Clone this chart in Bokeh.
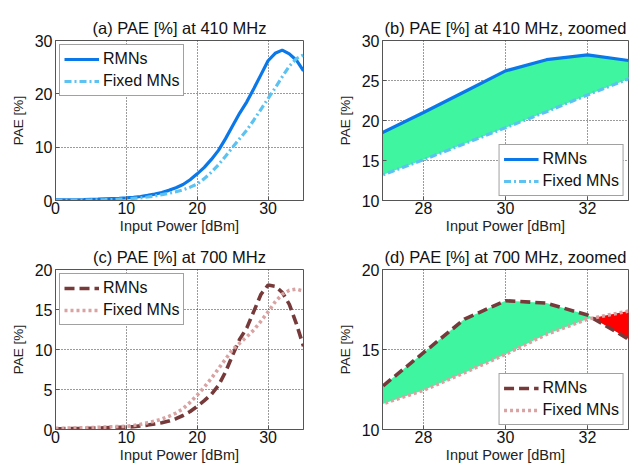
from bokeh.plotting import figure
from bokeh.layouts import gridplot
from bokeh.models import Range1d, FixedTicker
from bokeh.embed import file_html
from bokeh.resources import INLINE

# ---------------- data ----------------
x_dbm = list(range(36))
rmn_410 = [0.1, 0.1, 0.12, 0.14, 0.16, 0.2, 0.24, 0.3, 0.36, 0.42,
           0.5, 0.6, 0.75, 0.95, 1.2, 1.5, 1.9, 2.4, 3.0, 3.9,
           5.0, 6.2, 7.7, 9.4, 11.6, 14.0, 16.4, 18.5, 21.0, 23.6,
           26.2, 27.6, 28.2, 27.5, 26.3, 24.3]
fixed_410 = [0.05, 0.05, 0.06, 0.07, 0.09, 0.1, 0.12, 0.15, 0.19, 0.24,
             0.3, 0.4, 0.5, 0.65, 0.85, 1.1, 1.35, 1.65, 2.0, 2.5,
             3.1, 4.1, 5.3, 6.7, 8.3, 10.0, 11.6, 13.2, 15.1, 17.1,
             19.1, 21.1, 23.2, 25.2, 26.6, 27.3]
rmn_700 = [0.1, 0.1, 0.11, 0.12, 0.14, 0.16, 0.18, 0.21, 0.24, 0.27,
           0.3, 0.35, 0.45, 0.55, 0.7, 0.85, 1.05, 1.35, 1.75, 2.25,
           2.9, 3.6, 4.4, 5.5, 7.2, 9.3, 11.3, 12.7, 14.8, 16.9,
           18.05, 17.9, 17.15, 15.65, 13.2, 10.4]
fixed_700 = [0.15, 0.16, 0.17, 0.19, 0.21, 0.24, 0.27, 0.3, 0.34, 0.37,
             0.4, 0.5, 0.65, 0.85, 1.05, 1.3, 1.65, 2.05, 2.6, 3.4,
             4.3, 5.3, 6.4, 7.6, 8.8, 10.0, 10.8, 11.6, 12.45, 13.55,
             14.7, 15.95, 16.9, 17.4, 17.55, 17.3]

titles = ["(a) PAE [%] at 410 MHz", "(b) PAE [%] at 410 MHz, zoomed",
          "(c) PAE [%] at 700 MHz", "(d) PAE [%] at 700 MHz, zoomed"]
x_label = "Input Power [dBm]"
y_label = "PAE [%]"
series_names = ["RMNs", "Fixed MNs"]
full_xticks = [0, 10, 20, 30]
zoom_xticks = [28, 30, 32]
yticks_a = [0, 10, 20, 30]
yticks_b = [10, 15, 20, 25, 30]
yticks_c = [0, 5, 10, 15, 20]
yticks_d = [10, 15, 20]

FONT = "Liberation Sans"
C_RMN_410 = "#0a78e8"
C_FIX_410 = "#5cc2f2"
C_RMN_700 = "#773a3a"
C_FIX_700 = "#d9a3a3"
C_GAIN = "#3ff5a0"
C_LOSS = "#ff0000"


def split_fill(x, a, b):
    """Insert crossing points between series a and b."""
    xs, ya, yb = [], [], []
    for i in range(len(x)):
        xs.append(x[i]); ya.append(a[i]); yb.append(b[i])
        if i < len(x) - 1:
            d0 = a[i] - b[i]
            d1 = a[i + 1] - b[i + 1]
            if d0 * d1 < 0:
                t = d0 / (d0 - d1)
                xc = x[i] + t * (x[i + 1] - x[i])
                yc = a[i] + t * (a[i + 1] - a[i])
                xs.append(xc); ya.append(yc); yb.append(yc)
    top = [max(p, q) for p, q in zip(ya, yb)]
    return xs, ya, yb, top


def make(title, xr, yr, xt, yt, w, h, bl, br, bt, bb):
    p = figure(width=w, height=h, output_backend="svg", toolbar_location=None,
               x_range=Range1d(*xr), y_range=Range1d(*yr),
               min_border_left=bl, min_border_right=br,
               min_border_top=bt, min_border_bottom=bb,
               title=title, x_axis_label=x_label, y_axis_label=y_label)
    p.title.text_font = FONT
    p.title.text_font_size = "16.5px"
    p.title.text_font_style = "normal"
    p.title.text_color = "#111111"
    p.title.align = "center"
    p.title.standoff = 7
    p.xaxis.ticker = FixedTicker(ticks=xt)
    p.yaxis.ticker = FixedTicker(ticks=yt)
    for ax in (p.xaxis[0], p.yaxis[0]):
        ax.major_label_text_font = FONT
        ax.major_label_text_font_size = "16px"
        ax.major_label_text_color = "#111111"
        ax.axis_label_text_font = FONT
        ax.axis_label_text_font_style = "normal"
        ax.axis_label_text_color = "#222222"
        ax.major_tick_in = 4
        ax.major_tick_out = 0
        ax.minor_tick_line_color = None
        ax.axis_line_color = "#555555"
        ax.major_tick_line_color = "#555555"
    p.xaxis.axis_label_text_font_size = "14.5px"
    p.yaxis.axis_label_text_font_size = "13.5px"
    p.xaxis.major_label_standoff = 1
    p.xaxis.axis_label_standoff = 1
    p.yaxis.major_label_standoff = 3
    p.yaxis.axis_label_standoff = 6
    p.grid.grid_line_dash = "1 2"
    p.grid.grid_line_color = "#222222"
    p.grid.grid_line_alpha = 0.9
    p.outline_line_color = "#555555"
    return p


def lines(p, rmn, fixed, crmn, cfix, dash_rmn, dash_fix, loc, wr=3.2, wf=3.2):
    p.line(x_dbm, rmn, line_color=crmn, line_width=wr, line_dash=dash_rmn,
           legend_label=series_names[0])
    p.line(x_dbm, fixed, line_color=cfix, line_width=wf, line_dash=dash_fix,
           legend_label=series_names[1])
    lg = p.legend[0]
    lg.location = loc
    lg.label_text_font = FONT
    lg.label_text_font_size = "16px"
    lg.label_text_color = "#111111"
    lg.glyph_width = 35
    lg.glyph_height = 20
    lg.label_standoff = 4
    lg.label_height = 20
    lg.padding = 4
    lg.spacing = 2
    lg.margin = 4
    lg.border_line_color = "#444444"
    lg.border_line_width = 1
    lg.background_fill_alpha = 1.0


def fills(p, rmn, fixed):
    xs, ya, yb, top = split_fill(x_dbm, rmn, fixed)
    p.varea(x=xs, y1=yb, y2=top, fill_color=C_GAIN)
    p.varea(x=xs, y1=ya, y2=top, fill_color=C_LOSS)


W1, W2 = 321, 313
H1, H2 = 236, 230

pa = make(titles[0], (0, 35), (0, 30), full_xticks, yticks_a, W1, H1, 55, 18, 40, 36)
lines(pa, rmn_410, fixed_410, C_RMN_410, C_FIX_410, "solid", "7 3 2 3", "top_left")

pb = make(titles[1], (27, 33), (10, 30), zoom_xticks, yticks_b, W2, H1, 61, 6, 40, 36)
fills(pb, rmn_410, fixed_410)
lines(pb, rmn_410, fixed_410, C_RMN_410, C_FIX_410, "solid", "7 3 2 3", "bottom_right")

pc = make(titles[2], (0, 35), (0, 20), full_xticks, yticks_c, W1, H2, 55, 18, 33, 37)
lines(pc, rmn_700, fixed_700, C_RMN_700, C_FIX_700, "10 5", "3 3", "top_left", 3.6, 3.6)

pd = make(titles[3], (27, 33), (10, 20), zoom_xticks, yticks_d, W2, H2, 61, 6, 33, 37)
fills(pd, rmn_700, fixed_700)
lines(pd, rmn_700, fixed_700, C_RMN_700, C_FIX_700, "10 5", "3 3", "bottom_right", 3.6, 3.6)

grid = gridplot([[pa, pb], [pc, pd]], toolbar_location=None)

open("out.html", "w").write(file_html(grid, INLINE))
